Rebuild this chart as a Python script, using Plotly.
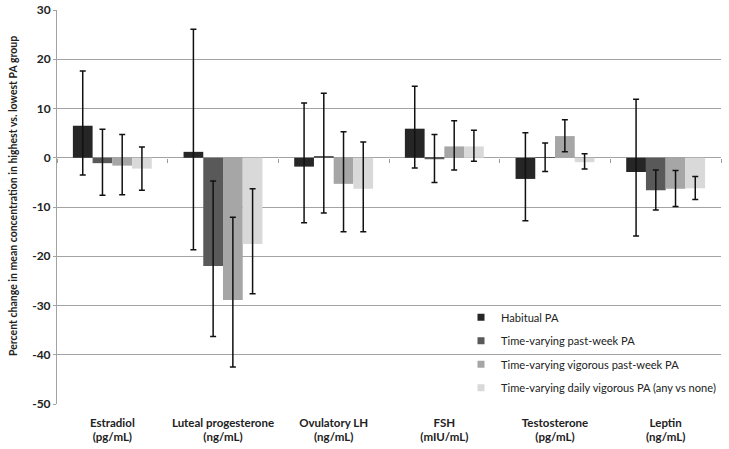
import plotly.graph_objects as go

categories = ["Estradiol<br>(pg/mL)", "Luteal progesterone<br>(ng/mL)", "Ovulatory LH<br>(ng/mL)",
              "FSH<br>(mIU/mL)", "Testosterone<br>(pg/mL)", "Leptin<br>(ng/mL)"]

series_names = ["Habitual PA", "Time-varying past-week PA", "Time-varying vigorous past-week PA",
                "Time-varying daily vigorous PA (any vs none)"]

y_tick_values = [-50, -40, -30, -20, -10, 0, 10, 20, 30]
y_tick_labels = ["-50", "-40", "-30", "-20", "-10", "0", "10", "20", "30"]

habitual = [6.5, 1.2, -1.8, 5.9, -4.3, -2.9]
habitual_lo = [-3.5, -18.7, -13.2, -2.1, -12.8, -15.9]
habitual_hi = [17.6, 26.1, 11.1, 14.5, 5.1, 11.9]

pastweek = [-1.1, -22.0, 0.2, -0.3, 0.1, -6.6]
pastweek_lo = [-7.6, -36.3, -11.2, -5.0, -2.8, -10.6]
pastweek_hi = [5.8, -4.7, 13.1, 4.7, 3.0, -2.5]

vigorous = [-1.6, -28.9, -5.3, 2.3, 4.4, -6.3]
vigorous_lo = [-7.5, -42.5, -15.0, -2.5, 1.2, -9.9]
vigorous_hi = [4.7, -12.1, 5.3, 7.5, 7.7, -2.6]

daily = [-2.2, -17.5, -6.3, 2.3, -0.9, -6.2]
daily_lo = [-6.6, -27.6, -15.0, -0.7, -2.3, -8.5]
daily_hi = [2.2, -6.3, 3.2, 5.6, 0.8, -3.8]

colors = ["#262626", "#595959", "#a6a6a6", "#d9d9d9"]

fig = go.Figure()
for i, (name, vals, lo, hi) in enumerate([
        (series_names[0], habitual, habitual_lo, habitual_hi),
        (series_names[1], pastweek, pastweek_lo, pastweek_hi),
        (series_names[2], vigorous, vigorous_lo, vigorous_hi),
        (series_names[3], daily, daily_lo, daily_hi)]):
    fig.add_trace(go.Bar(
        x=categories, y=vals, name=name, showlegend=False,
        marker=dict(color=colors[i], line=dict(width=0)),
        error_y=dict(type="data", symmetric=False,
                     array=[h - v for h, v in zip(hi, vals)],
                     arrayminus=[v - l for l, v in zip(lo, vals)],
                     color="#111111", thickness=1.5, width=3),
    ))

# legend entries with small square swatches
for i, name in enumerate(series_names):
    fig.add_trace(go.Scatter(x=[None], y=[None], mode="markers", name=name,
                             legendgroup=f"g{i}",
                             marker=dict(symbol="square", size=7, color=colors[i])))

# invisible trace to carry the zero-line tick marks axis
fig.add_trace(go.Scatter(x=categories, y=[0] * 6, xaxis="x2", mode="markers",
                         marker=dict(opacity=0), showlegend=False, hoverinfo="skip"))

y0 = -50
y1 = 30
fig.update_layout(
    width=729, height=449, autosize=False,
    margin=dict(l=57, r=8, t=10, b=45),
    paper_bgcolor="white", plot_bgcolor="white",
    barmode="group", bargap=0.287, bargroupgap=0,
    font=dict(family="Lato, 'Open Sans', sans-serif", color="#222222"),
    xaxis=dict(categoryorder="array", categoryarray=categories, range=[-0.5, 5.5],
               showgrid=False, zeroline=False, showline=False, ticks="",
               tickfont=dict(size=11.5, family="Lato", weight="bold"), ticklabelstandoff=10,
               automargin=False),
    xaxis2=dict(overlaying="x", anchor="free", position=(0 - y0) / (y1 - y0),
                categoryorder="array", categoryarray=categories, range=[-0.5, 5.5],
                tickson="boundaries", ticks="outside", ticklen=4, tickcolor="#9a9a9a",
                showticklabels=False, showgrid=False, zeroline=False, showline=False),
    yaxis=dict(range=[y0, y1], tickvals=y_tick_values, ticktext=y_tick_labels,
               showgrid=True, gridcolor="#a3a3a3", gridwidth=1,
               zeroline=True, zerolinecolor="#a3a3a3", zerolinewidth=1,
               showline=True, linecolor="#a3a3a3", linewidth=1,
               ticks="outside", ticklen=3, tickcolor="#a3a3a3",
               tickfont=dict(size=12, family="Lato", weight="bold"), automargin=False),
    annotations=[dict(text="Percent change in mean concentration in highest vs. lowest PA group",
                      textangle=-90, xref="paper", yref="paper",
                      x=(13 - 57) / 664, y=(404 - 196) / 394, xanchor="center", yanchor="middle",
                      showarrow=False, font=dict(size=10.5, family="Lato", weight="bold"))],
    shapes=[dict(type="rect", xref="paper", yref="paper", layer="between",
                 x0=(487 - 57) / 664, x1=1.0, y0=(404 - 398) / 394, y1=(404 - 308) / 394,
                 fillcolor="white", line=dict(width=0))],
    legend=dict(x=1.0, y=0.2571, xanchor="right", yanchor="top", bgcolor="rgba(0,0,0,0)",
                font=dict(size=11.1, family="Lato"), tracegroupgap=4.5,
                traceorder="grouped", itemwidth=30),
    showlegend=True,
)

fig.write_html("out.html",
               config={"responsive": False, "displayModeBar": False},
               post_script="document.body.style.margin='0';")
